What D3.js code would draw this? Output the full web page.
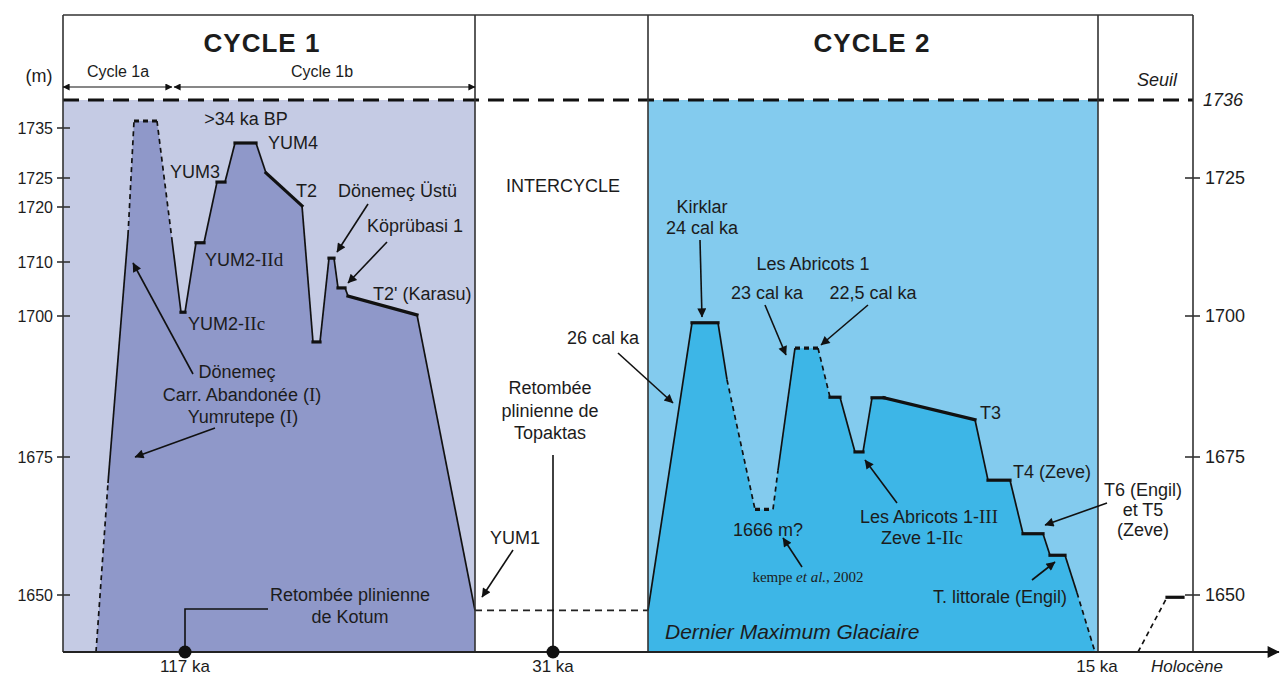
<!DOCTYPE html>
<meta charset="utf-8">
<style>
body { margin: 0; background: #fff; }
svg { font-family: "Liberation Sans", Arial, sans-serif; }
text { fill: #1c1c1c; }
.serif { font-family: "Liberation Serif", "Times New Roman", serif; }
.frame { stroke: #333; stroke-width: 1.6; fill: none; }
.lead { stroke: #111; stroke-width: 1.6; fill: none; }
</style>
<body>
<script src="https://d3js.org/d3.v7.min.js"></script>
<script>
// ---- data ----
// altitudes (m) for the axes
var yTicksLeft = [1735, 1725, 1720, 1710, 1700, 1675, 1650];
var yTicksRight = [1725, 1700, 1675, 1650];
var seuil = 1736;
var baseLevel = 1640;
var yum1Level = 1647.3;

// horizontal position along the schematic (arbitrary units, frame = 0..1130)
var zoneBounds = [0, 412, 585, 1035, 1130];

// cycle 1 profile
var cycle1X = [33, 45, 65, 71, 94, 109, 118, 122, 133, 141, 154, 162, 172, 193, 203, 239, 250, 257, 266, 271, 275, 282, 285, 354, 412];
var cycle1Y = [1640, 1670.3, 1714.9, 1735.25, 1735.25, 1714, 1700.7, 1700.7, 1713.5, 1713.5, 1724.3, 1724.3, 1732, 1732, 1726, 1720.2, 1695.4, 1695.4, 1710.7, 1710.7, 1705.2, 1705.2, 1703.7, 1700.2, 1647.3];
// segment kind: u = uncertain slope, ut = uncertain level, s = slope, t = terrace
var cycle1Kind = ["u", "s", "u", "ut", "u", "s", "t", "s", "t", "s", "t", "s", "t", "s", "t", "s", "t", "s", "t", "s", "t", "s", "t", "s"];

// cycle 2 profile
var cycle2X = [585, 585, 629, 655, 664, 692, 710, 715, 732, 755, 767, 777, 792, 800, 809, 821, 912, 925, 947, 960, 980, 987, 1002, 1014, 1032];
var cycle2Y = [1640, 1647.3, 1698.8, 1698.8, 1688.7, 1665.5, 1665.5, 1672.6, 1694.3, 1694.3, 1685.6, 1685.6, 1675.9, 1675.9, 1685.5, 1685.5, 1681.6, 1670.8, 1670.8, 1661.1, 1661.1, 1657.2, 1657.2, 1650.4, 1640];
var cycle2Kind = ["none", "s", "t", "s", "u", "ut", "u", "s", "ut", "u", "t", "s", "t", "s", "t", "t", "s", "t", "s", "t", "s", "t", "s", "u"];

// holocene
var holoX = [1075, 1104, 1120];
var holoY = [1640, 1649.6, 1649.6];
var holoKind = ["u", "t"];

// time markers on the base line
var timeLabels = ["117 ka", "31 ka", "15 ka"];
var timePos = [122, 490, 1034];
var timeDot = [true, true, false];

// ---- drawing ----
var W = 1280, H = 679;
var svg = d3.select("body").append("svg").attr("width", W).attr("height", H);

var x = d3.scaleLinear().domain([0, 1130]).range([63, 1193]);
var y = d3.scaleLinear()
  .domain([1640, 1650, 1675, 1700, 1710, 1720, 1725, 1735, 1736])
  .range([652, 595, 457, 316, 262, 207, 178, 128, 100]);
var frameTop = 15;

var defs = svg.append("defs");
function marker(id, w, h) {
  defs.append("marker").attr("id", id)
    .attr("viewBox", "0 0 10 10").attr("refX", 9.5).attr("refY", 5)
    .attr("markerUnits", "userSpaceOnUse")
    .attr("markerWidth", w).attr("markerHeight", h)
    .attr("orient", "auto-start-reverse")
    .append("path").attr("d", "M0,0L10,5L0,10z").attr("fill", "#111");
}
marker("arr", 12, 9);
marker("arrSmall", 9, 7);
marker("arrBig", 14, 12);

// backgrounds
svg.append("rect")
  .attr("x", x(zoneBounds[0])).attr("y", y(seuil))
  .attr("width", x(zoneBounds[1]) - x(zoneBounds[0]))
  .attr("height", y(baseLevel) - y(seuil))
  .attr("fill", "#c5cbe4");
svg.append("rect")
  .attr("x", x(zoneBounds[2])).attr("y", y(seuil))
  .attr("width", x(zoneBounds[3]) - x(zoneBounds[2]))
  .attr("height", y(baseLevel) - y(seuil))
  .attr("fill", "#83cbee");

var line = d3.line().x(function(d) { return x(d[0]); }).y(function(d) { return y(d[1]); });

function profile(xs, ys, kinds, fill) {
  var pts = xs.map(function(v, i) { return [v, ys[i]]; });
  if (fill) {
    var poly = pts.slice();
    poly.push([xs[xs.length - 1], baseLevel]);
    svg.append("path").attr("d", line(poly) + "Z").attr("fill", fill);
  }
  kinds.forEach(function(k, i) {
    if (k === "none") return;
    svg.append("path")
      .attr("d", line([pts[i], pts[i + 1]]))
      .attr("fill", "none")
      .attr("stroke", "#111")
      .attr("stroke-linecap", k === "t" ? "square" : "butt")
      .attr("stroke-width", (k === "t" || k === "ut") ? 3.2 : 1.7)
      .attr("stroke-dasharray", (k === "u" || k === "ut") ? "5,4" : null);
  });
}
profile(cycle1X, cycle1Y, cycle1Kind, "#8f98c9");
profile(cycle2X, cycle2Y, cycle2Kind, "#3db6e7");
profile(holoX, holoY, holoKind, null);

// YUM1 level
svg.append("line")
  .attr("x1", x(zoneBounds[1])).attr("x2", x(zoneBounds[2]))
  .attr("y1", y(yum1Level)).attr("y2", y(yum1Level))
  .attr("stroke", "#222").attr("stroke-width", 1.6).attr("stroke-dasharray", "7,5");

// seuil
svg.append("line")
  .attr("x1", x(0)).attr("x2", x(1130))
  .attr("y1", y(seuil)).attr("y2", y(seuil))
  .attr("stroke", "#111").attr("stroke-width", 3.2).attr("stroke-dasharray", "16,9");

// frame
svg.append("line").attr("class", "frame")
  .attr("x1", x(0)).attr("x2", x(1130)).attr("y1", frameTop).attr("y2", frameTop);
zoneBounds.forEach(function(b) {
  svg.append("line").attr("class", "frame")
    .attr("x1", x(b)).attr("x2", x(b)).attr("y1", frameTop).attr("y2", y(baseLevel));
});

// base line with arrow
svg.append("line")
  .attr("x1", x(0)).attr("x2", 1279)
  .attr("y1", y(baseLevel)).attr("y2", y(baseLevel))
  .attr("stroke", "#222").attr("stroke-width", 2.2)
  .attr("marker-end", "url(#arrBig)");

// left axis
yTicksLeft.forEach(function(v) {
  svg.append("line").attr("class", "frame")
    .attr("x1", x(0) - 6).attr("x2", x(0) + 7).attr("y1", y(v)).attr("y2", y(v));
  svg.append("text").attr("x", x(0) - 10).attr("y", y(v)).attr("dy", "0.35em")
    .attr("text-anchor", "end").style("font-size", "16px").text(v);
});
// right axis
yTicksRight.forEach(function(v) {
  svg.append("line").attr("class", "frame")
    .attr("x1", x(1130) - 8).attr("x2", x(1130) + 7).attr("y1", y(v)).attr("y2", y(v));
  svg.append("text").attr("x", x(1130) + 12).attr("y", y(v)).attr("dy", "0.35em")
    .attr("text-anchor", "start").style("font-size", "18px").text(v);
});

// text helper, {..} parts set in serif
function label(px, py, str, opt) {
  opt = opt || {};
  var t = svg.append("text").attr("x", px).attr("y", py).attr("dy", "0.35em")
    .attr("text-anchor", opt.anchor || "middle")
    .style("font-size", (opt.size || 18) + "px");
  if (opt.italic) t.style("font-style", "italic");
  if (opt.bold) t.style("font-weight", "bold");
  if (opt.ls) t.style("letter-spacing", opt.ls + "px");
  str.split(/(\{[^}]*\})/).forEach(function(part) {
    if (!part) return;
    if (part[0] === "{") t.append("tspan").attr("class", "serif").style("font-size", "19px").text(part.slice(1, -1));
    else t.append("tspan").text(part);
  });
  return t;
}
function arrow(x1, y1, x2, y2) {
  svg.append("line").attr("class", "lead")
    .attr("x1", x1).attr("y1", y1).attr("x2", x2).attr("y2", y2)
    .attr("marker-end", "url(#arr)");
}

// time markers
timeLabels.forEach(function(l, i) {
  if (timeDot[i]) svg.append("circle").attr("cx", x(timePos[i])).attr("cy", y(baseLevel)).attr("r", 6.5).attr("fill", "#111");
  label(x(timePos[i]), 666, l, {size: 17});
});
label(1187, 666, "Holocène", {italic: true, size: 17});

// header
label(262, 43, "CYCLE 1", {size: 26, bold: true, ls: 1});
label(872, 43, "CYCLE 2", {size: 26, bold: true, ls: 1});
label(39, 76, "(m)");
label(118, 71, "Cycle 1a", {size: 16});
label(322, 71, "Cycle 1b", {size: 16});
svg.append("line").attr("class", "lead").style("stroke-width", 1.2)
  .attr("x1", x(0)).attr("x2", 172).attr("y1", 87).attr("y2", 87)
  .attr("marker-start", "url(#arrSmall)").attr("marker-end", "url(#arrSmall)");
svg.append("line").attr("class", "lead").style("stroke-width", 1.2)
  .attr("x1", 174).attr("x2", x(zoneBounds[1])).attr("y1", 87).attr("y2", 87)
  .attr("marker-start", "url(#arrSmall)").attr("marker-end", "url(#arrSmall)");
label(1157, 80, "Seuil", {italic: true});
label(1203, y(seuil), String(seuil), {italic: true, anchor: "start"});

// cycle 1 annotations
label(246, 119, ">34 ka BP");
label(268, 143, "YUM4", {anchor: "start"});
label(170, 172, "YUM3", {anchor: "start"});
label(296, 191, "T2", {anchor: "start"});
label(338, 191, "Dönemeç Üstü", {anchor: "start"});
label(367, 226, "Köprübasi 1", {anchor: "start"});
label(373, 294, "T2' (Karasu)", {anchor: "start"});
label(205, 260, "YUM2-{IId}", {anchor: "start"});
label(188, 324, "YUM2-{IIc}", {anchor: "start"});
label(237, 372, "Dönemeç");
label(242, 395, "Carr. Abandonée ({I})");
label(243, 417, "Yumrutepe ({I})");
label(350, 595, "Retombée plinienne");
label(350, 617, "de Kotum");
arrow(368, 204, 337, 252);
arrow(387, 242, 348, 283);
arrow(193, 374, 133, 263);
arrow(215, 428, 135, 457);
svg.append("path").attr("class", "lead")
  .attr("d", "M268,609H" + x(timePos[0]) + "V" + y(baseLevel));

// intercycle
label(563, 186, "INTERCYCLE");
label(550, 388, "Retombée");
label(550, 411, "plinienne de");
label(550, 433, "Topaktas");
svg.append("line").attr("class", "lead")
  .attr("x1", x(timePos[1])).attr("x2", x(timePos[1])).attr("y1", 455).attr("y2", y(baseLevel));
label(515, 538, "YUM1");
arrow(513, 550, 482, 597);
label(603, 338, "26 cal ka");
arrow(618, 353, 673, 403);

// cycle 2 annotations
label(702, 207, "Kirklar");
label(702, 228, "24 cal ka");
arrow(700, 240, 702, 317);
label(813, 264, "Les Abricots 1");
label(767, 293, "23 cal ka");
label(873, 293, "22,5 cal ka");
arrow(765, 305, 786, 355);
arrow(868, 305, 821, 345);
label(768, 530, "1666 m?");
var kt = svg.append("text").attr("x", 808).attr("y", 577).attr("dy", "0.35em")
  .attr("text-anchor", "middle").attr("class", "serif").style("font-size", "15px");
kt.append("tspan").text("kempe ");
kt.append("tspan").style("font-style", "italic").text("et al.");
kt.append("tspan").text(", 2002");
arrow(802, 567, 783, 538);
label(929, 517, "Les Abricots 1-{III}");
label(922, 538, "Zeve 1-{IIc}");
arrow(897, 503, 865, 460);
label(980, 413, "T3", {anchor: "start"});
label(1013, 472, "T4 (Zeve)", {anchor: "start"});
label(1143, 490, "T6 (Engil)");
label(1143, 510, "et T5");
label(1143, 530, "(Zeve)");
arrow(1107, 503, 1045, 525);
label(1000, 597, "T. littorale (Engil)");
arrow(1032, 580, 1055, 562);
label(665, 632, "Dernier Maximum Glaciaire", {italic: true, size: 21, anchor: "start"});
</script>
